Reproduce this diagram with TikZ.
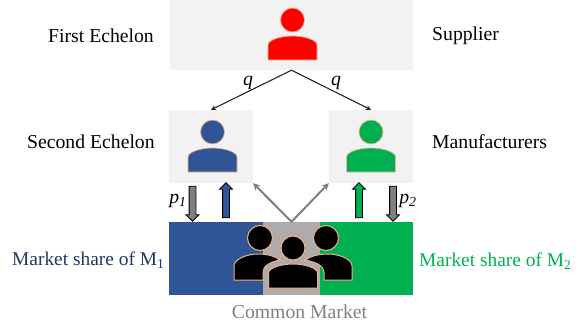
\documentclass[tikz,border=0pt]{standalone}
\usepackage{fontspec}
\setmainfont{Liberation Serif}
\usetikzlibrary{shapes.arrows, arrows.meta}

\definecolor{panelgray}{HTML}{F2F2F2}
\definecolor{edgeorange}{HTML}{F4B183}
\definecolor{brandblue}{HTML}{2F5597}
\definecolor{brandgreen}{HTML}{00B050}
\definecolor{darkblue}{HTML}{1F3864}
\definecolor{sharedgray}{HTML}{AFABAB}
\definecolor{arrowgray}{HTML}{7F7F7F}

\tikzset{
    panel/.style={fill=panelgray, inner sep=0pt},
    share/.style={inner sep=0pt, minimum height=73pt},
    label/.style={inner sep=0pt, font=\fontsize{19.7}{23}\selectfont},
    sharelabel/.style={inner sep=0pt, anchor=west, font=\fontsize{19.4}{23}\selectfont},
    flow/.style={single arrow, draw=black, line width=0.8pt, inner sep=3pt,
        minimum height=35pt, single arrow head extend=3pt,
        single arrow head indent=0pt},
    person/.pic={
        \path[pic actions] (0,0) circle (12);
        \path[pic actions] (-24.5,40) -- (-24.5,25)
            .. controls (-24.5,20) and (-12,16) .. (0,16)
            .. controls (12,16) and (24.5,20) .. (24.5,25)
            -- (24.5,40) -- cycle;
    }
}

\begin{document}
\begin{tikzpicture}[x=1pt, y=-1pt]
    \useasboundingbox (0,0) rectangle (587,329);

    % Draw panels
    \node[panel, minimum width=243pt, minimum height=70pt] (supplier) at (291.5,35) {};
    \node[panel, minimum width=84pt, minimum height=73pt] (manu1) at (211,146.5) {};
    \node[panel, minimum width=84pt, minimum height=73pt] (manu2) at (371,146.5) {};

    % Draw market
    \node[share, fill=brandblue, minimum width=94pt] (share1) at (216,258.5) {};
    \node[share, fill=brandgreen, minimum width=93pt] (share2) at (366.5,258.5) {};
    \node[share, fill=sharedgray, minimum width=57pt] (shared) at (291.5,258.5) {};

    % Draw people
    \pic[fill=red, draw=edgeorange, line width=0.7pt] (redperson) at (292.5,20) {person};
    \pic[fill=brandblue, draw=edgeorange, line width=0.7pt] (blueperson) at (212.5,132) {person};
    \pic[fill=brandgreen, draw=edgeorange, line width=0.7pt] (greenperson) at (371,132) {person};

    \draw[fill=black, draw=edgeorange, line width=1pt] (260,238) circle (12.5);
    \draw[fill=black, draw=edgeorange, line width=1pt] (326,238) circle (12.5);
    \draw[fill=black, draw=edgeorange, line width=1pt] (234,280) -- (234,266)
        .. controls (234,259) and (247,254) .. (258,254)
        .. controls (267,254) and (275,256) .. (280,260)
        .. controls (270,262) and (263,266) .. (263,272)
        -- (263,280) -- cycle;
    \draw[fill=black, draw=edgeorange, line width=1pt] (352,280) -- (352,266)
        .. controls (352,259) and (339,254) .. (328,254)
        .. controls (319,254) and (311,256) .. (305,260)
        .. controls (316,262) and (324,266) .. (324,272)
        -- (324,280) -- cycle;
    \pic[fill=black, draw=edgeorange, line width=1pt] (crowd) at (293,248) {person};

    % Draw arrows
    \draw[-{Stealth[length=5pt, width=5pt]}, line width=1.1pt, black!85] (supplier.south) -- (manu1.north);
    \draw[-{Stealth[length=5pt, width=5pt]}, line width=1.1pt, black!85] (supplier.south) -- (manu2.north);
    \draw[-{Stealth[length=7pt, width=7pt]}, line width=2pt, arrowgray] (shared.north) -- (manu1.south east);
    \draw[-{Stealth[length=7pt, width=7pt]}, line width=2pt, arrowgray] (shared.north) -- (manu2.south west);

    \node[flow, fill=arrowgray, shape border rotate=270] (price1) at (192.5,202) {};
    \node[flow, fill=brandblue, shape border rotate=90] (demand1) at (226,202) {};
    \node[flow, fill=brandgreen, shape border rotate=90] (demand2) at (359,202) {};
    \node[flow, fill=arrowgray, shape border rotate=270] (price2) at (393,202) {};

    % Draw labels
    \node[label, anchor=west] (first) at (48,36) {First Echelon};
    \node[label, anchor=west] (second) at (27,142) {Second Echelon};
    \node[label, anchor=west] (suppliertext) at (432,36) {Supplier};
    \node[label, anchor=west] (manutext) at (432,142) {Manufacturers};
    \node[label] (q1) at (248,83) {\textit{q}};
    \node[label] (q2) at (336,83) {\textit{q}};
    \node[label] (p1) at (178,201) {\textit{p\textsubscript{1}}};
    \node[label] (p2) at (408,201) {\textit{p\textsubscript{2}}};
    \node[sharelabel, text=darkblue] (sharetext1) at (12,260) {Market share of M\textsubscript{1}};
    \node[sharelabel, text=brandgreen] (sharetext2) at (419,261) {Market share of M\textsubscript{2}};
    \node[label, text=arrowgray] (common) at (299.5,312) {Common Market};
\end{tikzpicture}
\end{document}
